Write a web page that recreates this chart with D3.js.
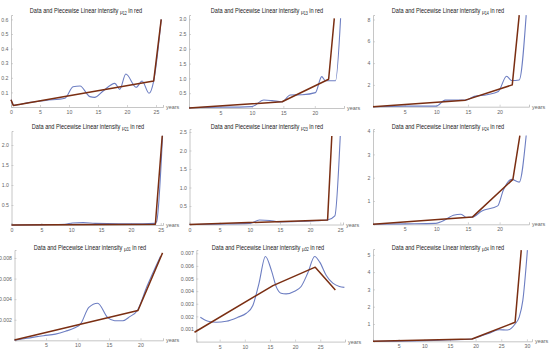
<!DOCTYPE html>
<html>
<head>
<meta charset="utf-8">
<script src="https://cdn.jsdelivr.net/npm/d3@7"></script>
<style>
  body { margin: 0; background: #fff; }
  svg { display: block; }
  text { font-family: "Liberation Sans", Arial, sans-serif; }
</style>
</head>
<body>
<div id="chart"></div>
<script>
// transition names, one per panel
const subscripts = ["12", "13", "14", "21", "23", "24", "31", "32", "34"];

// observed intensities (blue) and piecewise linear fits (red), [year, value]
const data12 = [[0,0.05],[0.5,0.012],[3,0.03],[6,0.045],[9.3,0.06],[10.7,0.139],[11.9,0.144],[13.6,0.071],[14.4,0.066],[15.9,0.11],[17.9,0.162],[18.75,0.121],[19.8,0.226],[21.6,0.135],[22.6,0.178],[23.8,0.094],[24.6,0.178],[25.9,0.6]];
const fit12  = [[0,0.05],[0.4,0.01],[24.6,0.178],[25.9,0.6]];
const data13 = [[0,0.01],[5,0.03],[8,0.03],[10,0.045],[11.9,0.27],[13.2,0.25],[14.8,0.21],[16.1,0.44],[18,0.45],[20.1,0.52],[21.1,1.06],[21.7,0.92],[23.3,0.92],[24.1,3.03]];
const fit13  = [[0,0],[14.8,0.21],[22.2,0.97],[23.1,3.03]];
const data14 = [[0,0],[5,0.05],[10,0.05],[11.4,0.6],[13,0.6],[14.6,0.6],[16,0.95],[18,1.1],[19.8,1.4],[21.1,2.8],[21.9,2.4],[23.1,2.45],[24.2,8.4]];
const fit14  = [[0,0],[14.6,0.6],[22,2.0],[23.1,8.4]];
const data21 = [[0,0],[5,0.01],[9,0.02],[10.2,0.05],[12,0.06],[14,0.04],[18,0.03],[22,0.03],[24,0.04],[24.3,0.08],[25.3,2.23]];
const fit21  = [[0,0],[24.1,0.02],[25.25,2.23]];
const data23 = [[0,0],[5,0.01],[10,0.03],[11.6,0.12],[13.3,0.11],[14.7,0.07],[18,0.08],[21,0.1],[22.9,0.12],[24.1,0.23],[25,2.39]];
const fit23  = [[0,0],[22.9,0.12],[23.6,2.39]];
const data24 = [[0,0],[5,0.02],[9.8,0.04],[11.4,0.19],[12.7,0.39],[13.9,0.43],[14.8,0.29],[15.7,0.31],[17.2,0.57],[19.7,0.79],[20.6,1.47],[21.9,1.93],[23.1,1.81],[24.2,3.81]];
const fit24  = [[0,0],[15.7,0.31],[22.1,1.93],[23.2,3.81]];
const data31 = [[0,0.00002],[2,0.0002],[4.6,0.00045],[6.5,0.0006],[8.1,0.00088],[9.5,0.0012],[10.5,0.0016],[11.8,0.0032],[13.2,0.0036],[14.8,0.0022],[15.9,0.0019],[17.2,0.0019],[18.3,0.0023],[19.5,0.0029],[21,0.0052],[23.2,0.0082]];
const fit31  = [[0,0.00003],[19.6,0.0029],[23.5,0.0085]];
const data32 = [[1.16,0.00193],[2.7,0.00161],[4.3,0.00153],[6.3,0.00161],[8.6,0.00193],[10.3,0.00225],[11.6,0.00286],[12.8,0.00458],[14.1,0.00675],[15.3,0.00563],[16.3,0.0043],[17.2,0.00384],[18.2,0.00378],[19.9,0.004],[21.2,0.00437],[22.5,0.00542],[23.9,0.00675],[24.9,0.0063],[26.2,0.00524],[27.5,0.00463],[28.8,0.00437],[29.8,0.0043]];
const fit32  = [[0,0.00074],[15.6,0.00444],[24,0.0059],[28,0.0041]];
const data34 = [[0,0],[10,0.04],[19.3,0.13],[20.7,0.27],[22.5,0.45],[24.6,0.67],[26.2,0.65],[27.7,1.0],[28.5,1.4],[29.2,2.35],[30.1,5.27]];
const fit34  = [[0,0],[19.3,0.13],[27.7,1.1],[28.9,5.27]];

// tick labels
const xTicks12 = [0,5,10,15,20,25];
const xTicks13 = [5,10,15,20];
const xTicks14 = [5,10,15,20];
const xTicks21 = [0,5,10,15,20,25];
const xTicks23 = [0,5,10,15,20,25];
const xTicks24 = [5,10,15,20];
const xTicks31 = [5,10,15,20];
const xTicks32 = [5,10,15,20,25];
const xTicks34 = [5,10,15,20,25,30];
const yTicks12 = [0.1,0.2,0.3,0.4,0.5,0.6];
const yTicks13 = [0.5,1.0,1.5,2.0,2.5,3.0];
const yTicks14 = [2,4,6,8];
const yTicks21 = [0.5,1.0,1.5,2.0];
const yTicks23 = [0.5,1.0,1.5,2.0,2.5];
const yTicks24 = [1,2,3,4];
const yTicks31 = [0.002,0.004,0.006,0.008];
const yTicks32 = [0.001,0.002,0.003,0.004,0.005,0.006,0.007];
const yTicks34 = [1,2,3,4,5];

const W = 550, H = 352;
const blue = "#6d7ec2", red = "#7a2e12";

// panel frames: x0/y0 pixel of the origin, px per unit, axis extent
const panels = [
  { sub: subscripts[0], data: data12, fit: fit12, xt: xTicks12, yt: yTicks12, fmt: ".1f", x0: 11,    xs: 5.8,  xEnd: 163, y0: 107,   ys: 146,   yEnd: 15,  tx: 86,  ty: 13 },
  { sub: subscripts[1], data: data13, fit: fit13, xt: xTicks13, yt: yTicks13, fmt: ".1f", x0: 189,   xs: 6.29, xEnd: 344, y0: 108,   ys: 29.6,  yEnd: 15,  tx: 267, ty: 13 },
  { sub: subscripts[2], data: data14, fit: fit14, xt: xTicks14, yt: yTicks14, fmt: "d",   x0: 373,   xs: 6.33, xEnd: 529, y0: 106.7, ys: 10.9,  yEnd: 15,  tx: 448, ty: 13 },
  { sub: subscripts[3], data: data21, fit: fit21, xt: xTicks21, yt: yTicks21, fmt: ".1f", x0: 11.5,  xs: 5.97, xEnd: 163, y0: 225,   ys: 40,    yEnd: 131, tx: 88,  ty: 129 },
  { sub: subscripts[4], data: data23, fit: fit23, xt: xTicks23, yt: yTicks23, fmt: ".1f", x0: 189.5, xs: 6.03, xEnd: 343, y0: 224.5, ys: 37,    yEnd: 129, tx: 267, ty: 129 },
  { sub: subscripts[5], data: data24, fit: fit24, xt: xTicks24, yt: yTicks24, fmt: "d",   x0: 373,   xs: 6.33, xEnd: 529, y0: 224.3, ys: 23.3,  yEnd: 129, tx: 448, ty: 129 },
  { sub: subscripts[6], data: data31, fit: fit31, xt: xTicks31, yt: yTicks31, fmt: ".3f", x0: 14.5,  xs: 6.3,  xEnd: 163, y0: 340.3, ys: 10288, yEnd: 250, tx: 90,  ty: 249.5 },
  { sub: subscripts[7], data: data32, fit: fit32, xt: xTicks32, yt: yTicks32, fmt: ".3f", x0: 194.5, xs: 5.03, xEnd: 345, y0: 341.6, ys: 12614, yEnd: 250, tx: 268, ty: 249.5, xStart: 0.36 },
  { sub: subscripts[8], data: data34, fit: fit34, xt: xTicks34, yt: yTicks34, fmt: "d",   x0: 373,   xs: 5.13, xEnd: 532, y0: 341.3, ys: 17.3,  yEnd: 249, tx: 448, ty: 249.5 }
];

const svg = d3.select("#chart")
              .append("svg")
              .attr("width", W)
              .attr("height", H);

panels.forEach(p => {
    const xStart = p.xStart || 0;
    const x = d3.scaleLinear()
                .domain([xStart, (p.xEnd - p.x0) / p.xs])
                .range([p.x0 + xStart * p.xs, p.xEnd]);
    const y = d3.scaleLinear()
                .domain([0, (p.y0 - p.yEnd) / p.ys])
                .range([p.y0, p.yEnd]);

    const g = svg.append("g");

    // axes
    const xAxis = g.append("g")
                   .attr("transform", `translate(0, ${p.y0})`)
                   .call(d3.axisBottom(x).tickValues(p.xt).tickSize(-2).tickPadding(3.5).tickFormat(d3.format("d")));
    const yAxis = g.append("g")
                   .attr("transform", `translate(${x(xStart)}, 0)`)
                   .call(d3.axisLeft(y).tickValues(p.yt).tickSize(-2).tickPadding(2.5).tickFormat(d3.format(p.fmt)));

    [xAxis, yAxis].forEach(a => {
        a.select(".domain").attr("stroke", "#b8b8b8").attr("stroke-width", 0.8);
        a.selectAll(".tick line").attr("stroke", "#b8b8b8").attr("stroke-width", 0.6);
        a.selectAll(".tick text").attr("fill", "#666").style("font-size", "5.2px");
    });

    g.append("text")
     .attr("x", p.xEnd + 3)
     .attr("y", p.y0 + 2)
     .attr("fill", "#666")
     .style("font-size", "5.4px")
     .text("years");

    // lines
    const line = d3.line()
                   .x(d => x(d[0]))
                   .y(d => y(d[1]));

    g.append("path")
     .datum(p.data)
     .attr("fill", "none")
     .attr("stroke", blue)
     .attr("stroke-width", 1.1)
     .attr("d", line.curve(d3.curveMonotoneX));

    g.append("path")
     .datum(p.fit)
     .attr("fill", "none")
     .attr("stroke", red)
     .attr("stroke-width", 1.5)
     .attr("stroke-linejoin", "round")
     .attr("d", line.curve(d3.curveLinear));

    // title, squeezed horizontally like the original
    const t = g.append("text")
               .attr("transform", `translate(${p.tx}, ${p.ty}) scale(0.8, 1)`)
               .attr("text-anchor", "middle")
               .attr("fill", "#222")
               .style("font-size", "7px");
    t.append("tspan").text("Data and Piecewise Linear intensity ");
    t.append("tspan").style("font-size", "6px").attr("dy", 1).text("μ");
    t.append("tspan").style("font-size", "4.5px").attr("dy", 0.5).text(p.sub);
    t.append("tspan").attr("dy", -1.5).text(" in red");
});
</script>
</body>
</html>
